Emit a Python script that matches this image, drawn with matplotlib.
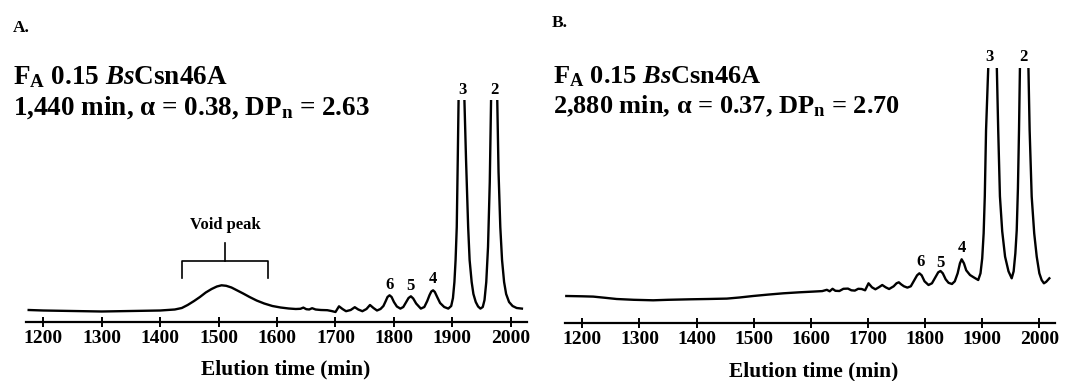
import matplotlib
matplotlib.use("Agg")
import matplotlib.pyplot as plt

# ======================================
# DATA (signal in arbitrary units)
# ======================================

ticks = [1200, 1300, 1400, 1500, 1600, 1700, 1800, 1900, 2000]

# Panel A - 1,440 min
time_a = [1175, 1200, 1250, 1300, 1350, 1400, 1425, 1437, 1447, 1458, 1468, 1478, 1488,
          1497, 1505, 1513, 1522, 1532, 1542, 1553, 1565, 1578, 1592, 1606, 1620, 1632,
          1640, 1645, 1650, 1655, 1660, 1666, 1675, 1686, 1693, 1700, 1706, 1712, 1718,
          1726, 1733, 1739, 1746, 1753, 1759, 1765, 1771, 1777, 1782, 1786, 1789, 1792.5,
          1796, 1800, 1805, 1811, 1816, 1821, 1825, 1829, 1833, 1838, 1846, 1852, 1857,
          1861, 1864, 1867, 1870, 1874, 1879, 1886, 1893, 1898, 1901, 1903.5, 1905.5, 1907.5,
          1909.2, 1910.6, 1913, 1915.6, 1918, 1920.6, 1923.4, 1927, 1929.5, 1933, 1936, 1940,
          1944, 1948, 1952, 1955, 1958, 1961, 1964, 1966.2, 1969, 1971.5, 1974, 1976.8,
          1979, 1982, 1985, 1988.5, 1992, 1997, 2003, 2010, 2019]
signal_a = [12, 11.5, 11, 10.5, 11, 11.5, 12.5, 14, 17, 21, 25, 29.5, 33,
            35.5, 36.7, 36.2, 34.5, 31.5, 28.5, 25, 21.5, 18.5, 16, 14.5, 13.5, 13,
            13.2, 14.4, 12.8, 12.5, 13.8, 12.5, 12, 11.8, 11, 10, 15.7, 13, 10.8,
            12, 14.8, 12.5, 10.8, 13, 17, 14, 11.5, 13, 16, 21, 25, 26.7,
            25, 20, 15.5, 13.4, 15, 20, 24, 25.7, 23.5, 18.5, 13.4, 15, 21,
            27, 30.5, 31.7, 30, 25, 19, 15, 13.4, 16, 24, 40, 62, 95,
            162, 222, 330, 420, 330, 222, 162, 95, 62, 40, 28, 20,
            15.5, 13.4, 15, 22, 40, 75, 140, 222, 330, 420, 330, 222,
            150, 95, 62, 40, 28, 20, 16, 14, 13.4]

# Panel B - 2,880 min
time_b = [1172, 1200, 1219, 1240, 1260, 1290, 1324, 1350, 1389, 1420, 1453, 1475, 1499,
          1525, 1552, 1580, 1604, 1620, 1628, 1633, 1638, 1643, 1650, 1657, 1665, 1671,
          1677, 1683, 1689, 1695, 1701, 1707, 1713, 1719, 1725, 1731, 1737, 1745, 1750,
          1754, 1758, 1763, 1769, 1775, 1781, 1786, 1790, 1794, 1799, 1806, 1812, 1818,
          1823, 1827, 1831, 1836, 1841, 1847, 1852, 1857, 1861, 1864, 1868, 1872, 1878.6,
          1885, 1893, 1897, 1900, 1902.5, 1904.5, 1906.7, 1910.5, 1914, 1918, 1922, 1925.6,
          1928, 1931, 1935, 1940, 1946, 1951.6, 1955, 1958, 1960.4, 1962.5, 1964.4, 1966,
          1969.5, 1973.5, 1977.5, 1980.9, 1983, 1986.6, 1991, 1995.4, 2000, 2004, 2008, 2012, 2017.5]
signal_b = [27.3, 27, 26.7, 25.5, 24.3, 23.5, 23, 23.5, 24, 24.3, 24.7, 25.8, 27.3,
            28.7, 30, 31, 31.7, 32.2, 33.5, 32, 34.5, 32.5, 32.3, 34.5, 34.7, 33,
            32.7, 34.5, 34.3, 33, 40, 36, 34, 36, 38.3, 36, 34.3, 37, 40,
            41, 39, 37, 35.7, 37, 43, 48, 50, 48, 42, 38.3, 40, 46,
            51, 52.3, 50, 44, 40.5, 39.3, 42, 50, 60, 64, 60, 53, 48.3,
            46, 43.3, 50, 65, 90, 127, 193, 255, 340, 420, 340, 255,
            193, 127, 92, 66.7, 52, 45, 52, 70, 93, 135, 193, 255,
            340, 420, 340, 255, 193, 126.7, 90, 66.7, 50, 43.3, 40, 41.5, 45]

# DP peak labels: (dp, time, signal)
labels_a = [("6", 1792.5, 37), ("5", 1829, 36), ("4", 1866, 43), ("3", 1916.8, 232), ("2", 1972, 232)]
labels_b = [("6", 1792.4, 61), ("5", 1827.4, 60), ("4", 1864, 75), ("3", 1913.6, 266.6), ("2", 1973, 266.6)]

titles_a = ["A.", r"F$_\mathrm{A}$ 0.15 $\mathit{Bs}$Csn46A", r"1,440 min, α = 0.38, DP$_\mathrm{n}$ = 2.63"]
titles_b = ["B.", r"F$_\mathrm{A}$ 0.15 $\mathit{Bs}$Csn46A", r"2,880 min, α = 0.37, DP$_\mathrm{n}$ = 2.70"]

# ======================================
# STYLE
# ======================================

plt.rcParams["font.family"] = ["Liberation Serif", "DejaVu Serif"]
plt.rcParams["font.weight"] = "bold"
plt.rcParams["mathtext.fontset"] = "custom"
plt.rcParams["mathtext.rm"] = "Liberation Serif:bold"
plt.rcParams["mathtext.bf"] = "Liberation Serif:bold"
plt.rcParams["mathtext.it"] = "Liberation Serif:italic:bold"

W, H = 1073, 381
fig = plt.figure(figsize=(W / 100, H / 100), dpi=100)


def px(x, y):
    return x / W, 1 - y / H


def make_axes(left, right, bottom, top, xlim, ylim, label_x, label_y):
    ax = fig.add_axes([left / W, 1 - bottom / H, (right - left) / W, (bottom - top) / H])
    ax.set_xlim(*xlim)
    ax.set_ylim(*ylim)
    for s in ["left", "right", "top"]:
        ax.spines[s].set_visible(False)
    ax.spines["bottom"].set_linewidth(1.6)
    ax.set_yticks([])
    ax.set_xticks(ticks)
    ax.tick_params(axis="x", direction="inout", length=7, width=1.4, pad=2, labelsize=14)
    for lab in ax.get_xticklabels():
        lab.set_fontweight("bold")
    ax.set_xlabel("Elution time (min)", fontsize=15.5, fontweight="bold", labelpad=0)
    ax.xaxis.set_label_coords(label_x, label_y)
    ax.patch.set_alpha(0)
    return ax


# ======================================
# PANEL A
# ======================================

ax_a = make_axes(26, 527, 322, 100, (1170.4, 2027.7), (0, 222), 0.518, -0.168)
ax_a.plot(time_a, signal_a, color="black", lw=1.7, solid_joinstyle="round")
for txt, t, s in labels_a:
    ax_a.text(t, s, txt, ha="center", va="center", fontsize=12, fontweight="bold", clip_on=False)

# void peak bracket
ax_a.plot([1437, 1437, 1585, 1585], [44, 61, 61, 44], color="black", lw=1.2)
ax_a.plot([1511, 1511], [61, 79], color="black", lw=1.2)
ax_a.text(1511, 97, "Void peak", ha="center", va="center", fontsize=12, fontweight="bold")

# ======================================
# PANEL B
# ======================================

ax_b = make_axes(565, 1055, 323.3, 68.3, (1169.7, 2027.4), (0, 255), 0.508, -0.15)
ax_b.plot(time_b, signal_b, color="black", lw=1.7, solid_joinstyle="round")
for txt, t, s in labels_b:
    ax_b.text(t, s, txt, ha="center", va="center", fontsize=12, fontweight="bold", clip_on=False)

# ======================================
# PANEL TEXT
# ======================================

fig.text(*px(13, 31.7), titles_a[0], fontsize=12.5, fontweight="bold", va="baseline")
fig.text(*px(13, 84), titles_a[1], fontsize=19.5, fontweight="bold", va="baseline")
fig.text(*px(13, 115), titles_a[2], fontsize=19.5, fontweight="bold", va="baseline")

fig.text(*px(552, 26.7), titles_b[0], fontsize=12.5, fontweight="bold", va="baseline")
fig.text(*px(553, 83.3), titles_b[1], fontsize=19, fontweight="bold", va="baseline")
fig.text(*px(553, 113.3), titles_b[2], fontsize=19, fontweight="bold", va="baseline")

fig.savefig("out.png", dpi=100)
